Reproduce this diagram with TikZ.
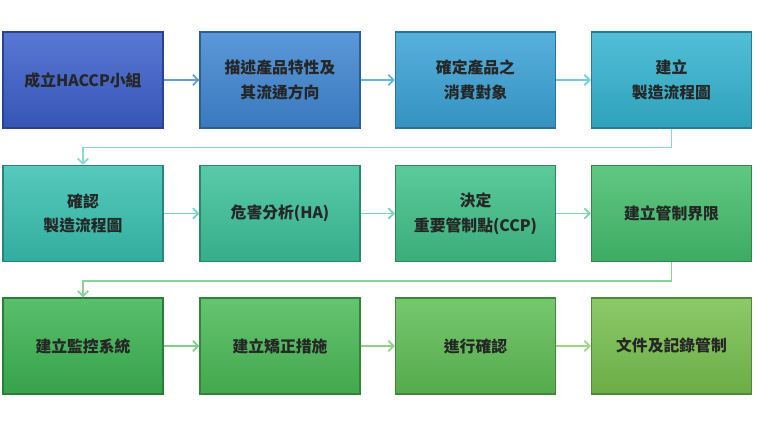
\documentclass[tikz,border=0pt]{standalone}
\usepackage{fontspec}
\setmainfont{Noto Sans CJK TC}
\usetikzlibrary{calc,arrows.meta}

\definecolor{cA}{HTML}{3C5FCB}
\definecolor{cB}{HTML}{3F86D2}
\definecolor{cC}{HTML}{3AA2D6}
\definecolor{cD}{HTML}{34B3D0}
\definecolor{cE}{HTML}{38C0B0}
\definecolor{cF}{HTML}{3CC198}
\definecolor{cG}{HTML}{40C088}
\definecolor{cH}{HTML}{44BE6C}
\definecolor{cI}{HTML}{3CB452}
\definecolor{cJ}{HTML}{4ABA56}
\definecolor{cK}{HTML}{5EBE54}
\definecolor{cL}{HTML}{78C04E}

\tikzset{
  stepbox/.style={draw=#1!70!black,line width=0.6pt,top color=#1!85!white,bottom color=#1!90!black,
    minimum width=3.2cm,minimum height=1.92cm,align=center,
    font=\fontsize{9}{14}\selectfont\bfseries,text=black!85,inner sep=2pt},
  flow/.style={-{Straight Barb[length=3pt,width=6pt]},line width=1pt,draw=#1}
}

\begin{document}
\begin{tikzpicture}
\useasboundingbox (0,0) rectangle (15.2,-8.5);
% row 1
\node[stepbox=cA] (s1) at (1.66,-1.6) {成立HACCP小組};
\node[stepbox=cB] (s2) at (5.6,-1.6) {描述產品特性及\\其流通方向};
\node[stepbox=cC] (s3) at (9.51,-1.6) {確定產品之\\消費對象};
\node[stepbox=cD] (s4) at (13.43,-1.6) {建立\\製造流程圖};
% row 2
\node[stepbox=cE] (s5) at (1.66,-4.27) {確認\\製造流程圖};
\node[stepbox=cF] (s6) at (5.6,-4.27) {危害分析(HA)};
\node[stepbox=cG] (s7) at (9.51,-4.27) {決定\\重要管制點(CCP)};
\node[stepbox=cH] (s8) at (13.43,-4.27) {建立管制界限};
% row 3
\node[stepbox=cI] (s9) at (1.66,-6.92) {建立監控系統};
\node[stepbox=cJ] (s10) at (5.6,-6.92) {建立矯正措施};
\node[stepbox=cK] (s11) at (9.51,-6.92) {進行確認};
\node[stepbox=cL] (s12) at (13.43,-6.92) {文件及記錄管制};
% arrows
\draw[flow=cB!80!white] (s1) -- (s2);
\draw[flow=cC!80!white] (s2) -- (s3);
\draw[flow=cD!70!white] (s3) -- (s4);
\draw[flow=cE!70!white] (s5) -- (s6);
\draw[flow=cF!70!white] (s6) -- (s7);
\draw[flow=cG!70!white] (s7) -- (s8);
\draw[flow=cJ!70!white] (s9) -- (s10);
\draw[flow=cK!70!white] (s10) -- (s11);
\draw[flow=cL!70!white] (s11) -- (s12);
\draw[flow=cE!60!white] (s4.south) -- ++(0,-0.38) -| (s5.north);
\draw[flow=cI!60!white] (s8.south) -- ++(0,-0.38) -| (s9.north);
\end{tikzpicture}
\end{document}
